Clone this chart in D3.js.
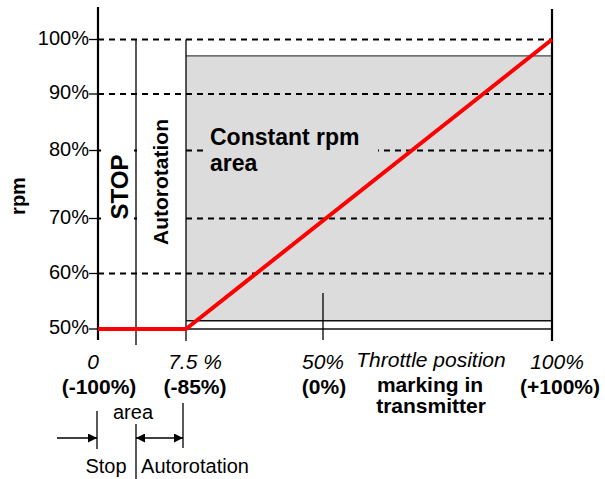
<!DOCTYPE html>
<html><head><meta charset="utf-8">
<script src="https://cdn.jsdelivr.net/npm/d3@7"></script>
<style>body{margin:0;background:#fff}svg{display:block}text{font-family:"Liberation Sans",Arial,sans-serif}</style>
</head><body>
<svg id="c" width="605" height="479"></svg>
<script>
// ---- data ----
const rpmTicks = [50, 60, 70, 80, 90, 100];
const rpmTickLabels = ["50%", "60%", "70%", "80%", "90%", "100%"];
const throttleMarks = [0, 7.5, 50, 100];
const throttleLabels = ["0", "7.5 %", "50%", "100%"];
const transmitterLabels = ["(-100%)", "(-85%)", "(0%)", "(+100%)"];
const stopBoundary = 3.2;
const curveThrottle = [0, 7.5, 100];
const curveRpm = [50, 50, 100];
const constantRpmRange = [51.5, 97];

const svg = d3.select("#c");
const x = d3.scaleLinear().domain([0, stopBoundary, 7.5, 50, 100]).range([98, 136, 186, 323, 552]);
const y = d3.scaleLinear().domain(rpmTicks).range([329, 273.5, 218.5, 150.5, 94, 39.5]);

// constant rpm area
svg.append("rect").attr("x", x(7.5)).attr("y", y(constantRpmRange[1]))
  .attr("width", x(100) - x(7.5)).attr("height", y(constantRpmRange[0]) - y(constantRpmRange[1]))
  .attr("fill", "#dcdcdc");
svg.append("line").attr("x1", x(7.5)).attr("x2", x(100)).attr("y1", y(constantRpmRange[1])).attr("y2", y(constantRpmRange[1]))
  .attr("stroke", "#444").attr("stroke-width", 1.2);
svg.append("line").attr("x1", x(7.5)).attr("x2", x(100)).attr("y1", y(constantRpmRange[0])).attr("y2", y(constantRpmRange[0]))
  .attr("stroke", "#111").attr("stroke-width", 1.5);
svg.append("line").attr("x1", x(7.5)).attr("x2", x(100)).attr("y1", y(50)).attr("y2", y(50))
  .attr("stroke", "#111").attr("stroke-width", 1.5);

// dashed grid
svg.selectAll("line.grid").data(rpmTicks.filter(d => d > 50)).join("line").attr("class", "grid")
  .attr("x1", x(0)).attr("x2", x(100)).attr("y1", d => y(d)).attr("y2", d => y(d))
  .attr("stroke", "#000").attr("stroke-width", 2).attr("stroke-dasharray", "6,5");

// label backgrounds
svg.append("rect").attr("x", 101).attr("y", 140).attr("width", 33).attr("height", 92).attr("fill", "#fff");
svg.append("rect").attr("x", 139).attr("y", 108).attr("width", 45).attr("height", 146).attr("fill", "#fff");
svg.append("rect").attr("x", 204).attr("y", 120).attr("width", 174).attr("height", 58).attr("fill", "#dcdcdc");

// vertical lines
const vline = (xv, y1, y2, w) => svg.append("line").attr("x1", x(xv)).attr("x2", x(xv)).attr("y1", y1).attr("y2", y2)
  .attr("stroke", "#000").attr("stroke-width", w || 1.5);
vline(0, 7, 340, 2.2);
vline(100, 9, 341, 2.2);
vline(stopBoundary, y(100), 345, 1.3);
vline(7.5, y(100), 341, 1.3);
vline(50, 293, 340, 1.3);

// y axis ticks & labels
const g = svg.append("g");
g.selectAll("line.tk").data(rpmTicks).join("line").attr("class", "tk")
  .attr("x1", x(0) - 9).attr("x2", x(0)).attr("y1", d => y(d)).attr("y2", d => y(d))
  .attr("stroke", "#000").attr("stroke-width", 1.3);
g.selectAll("text.tl").data(rpmTicks).join("text").attr("class", "tl")
  .attr("x", x(0) - 9).attr("y", d => y(d)).attr("dy", "0.27em")
  .attr("text-anchor", "end").attr("font-size", 20).text((d, i) => rpmTickLabels[i]);

svg.append("text").attr("transform", "translate(25,196) rotate(-90)").attr("text-anchor", "middle")
  .attr("font-size", 20).attr("font-weight", "bold").text("rpm");
svg.append("text").attr("transform", "translate(128,187) rotate(-90)").attr("text-anchor", "middle")
  .attr("font-size", 24).attr("font-weight", "bold").text("STOP");
svg.append("text").attr("transform", "translate(168,182) rotate(-90)").attr("text-anchor", "middle")
  .attr("font-size", 21).attr("font-weight", "bold").text("Autorotation");
svg.append("text").attr("x", 210).attr("y", 145).attr("font-size", 23).attr("font-weight", "bold").text("Constant rpm");
svg.append("text").attr("x", 210).attr("y", 171).attr("font-size", 23).attr("font-weight", "bold").text("area");

// curve
const line = d3.line().x(d => x(d[0])).y(d => y(d[1]));
svg.append("path").datum(curveThrottle.map((t, i) => [t, curveRpm[i]])).attr("d", line)
  .attr("fill", "none").attr("stroke", "#ff0000").attr("stroke-width", 4).attr("stroke-linejoin", "round");

// x labels
const labelDx = [-5, 9, 0, 5];
const labelDx2 = [1, 9, 1, 8];
svg.selectAll("text.xl").data(throttleMarks).join("text").attr("class", "xl")
  .attr("x", (d, i) => x(d) + labelDx[i]).attr("y", 369).attr("text-anchor", "middle")
  .attr("font-size", 21).attr("font-style", "italic").text((d, i) => throttleLabels[i]);
svg.selectAll("text.xl2").data(throttleMarks).join("text").attr("class", "xl2")
  .attr("x", (d, i) => x(d) + labelDx2[i]).attr("y", 394).attr("text-anchor", "middle")
  .attr("font-size", 21).attr("font-weight", "bold").text((d, i) => transmitterLabels[i]);
svg.append("text").attr("x", 431).attr("y", 367).attr("text-anchor", "middle").attr("font-size", 21)
  .attr("font-style", "italic").text("Throttle position");
svg.append("text").attr("x", 430).attr("y", 392).attr("text-anchor", "middle").attr("font-size", 21)
  .attr("font-weight", "bold").text("marking in");
svg.append("text").attr("x", 431).attr("y", 413).attr("text-anchor", "middle").attr("font-size", 21)
  .attr("font-weight", "bold").text("transmitter");

// bottom area annotation
const defs = svg.append("defs");
defs.append("marker").attr("id", "ah").attr("viewBox", "0 0 10 10").attr("refX", 10).attr("refY", 5)
  .attr("markerWidth", 10).attr("markerHeight", 9).attr("markerUnits", "userSpaceOnUse").attr("orient", "auto-start-reverse")
  .append("path").attr("d", "M0,0L10,5L0,10Z").attr("fill", "#000");
const xs = [x(0) - 1, x(stopBoundary), x(7.5) - 3];
svg.append("line").attr("x1", xs[0]).attr("x2", xs[0]).attr("y1", 411).attr("y2", 449).attr("stroke", "#000").attr("stroke-width", 1.3);
svg.append("line").attr("x1", xs[1]).attr("x2", xs[1]).attr("y1", 424).attr("y2", 479).attr("stroke", "#000").attr("stroke-width", 1.3);
svg.append("line").attr("x1", xs[2]).attr("x2", xs[2]).attr("y1", 403).attr("y2", 448).attr("stroke", "#000").attr("stroke-width", 1.3);
svg.append("line").attr("x1", 57).attr("x2", xs[0]).attr("y1", 438).attr("y2", 438)
  .attr("stroke", "#000").attr("stroke-width", 1.5).attr("marker-end", "url(#ah)");
svg.append("line").attr("x1", xs[1]).attr("x2", xs[2]).attr("y1", 438).attr("y2", 438)
  .attr("stroke", "#000").attr("stroke-width", 1.5).attr("marker-start", "url(#ah)").attr("marker-end", "url(#ah)");
svg.append("text").attr("x", 133).attr("y", 419).attr("text-anchor", "middle").attr("font-size", 20).text("area");
svg.append("text").attr("x", 106).attr("y", 473).attr("text-anchor", "middle").attr("font-size", 20).text("Stop");
svg.append("text").attr("x", 195).attr("y", 473).attr("text-anchor", "middle").attr("font-size", 20).text("Autorotation");
</script>
</body></html>
